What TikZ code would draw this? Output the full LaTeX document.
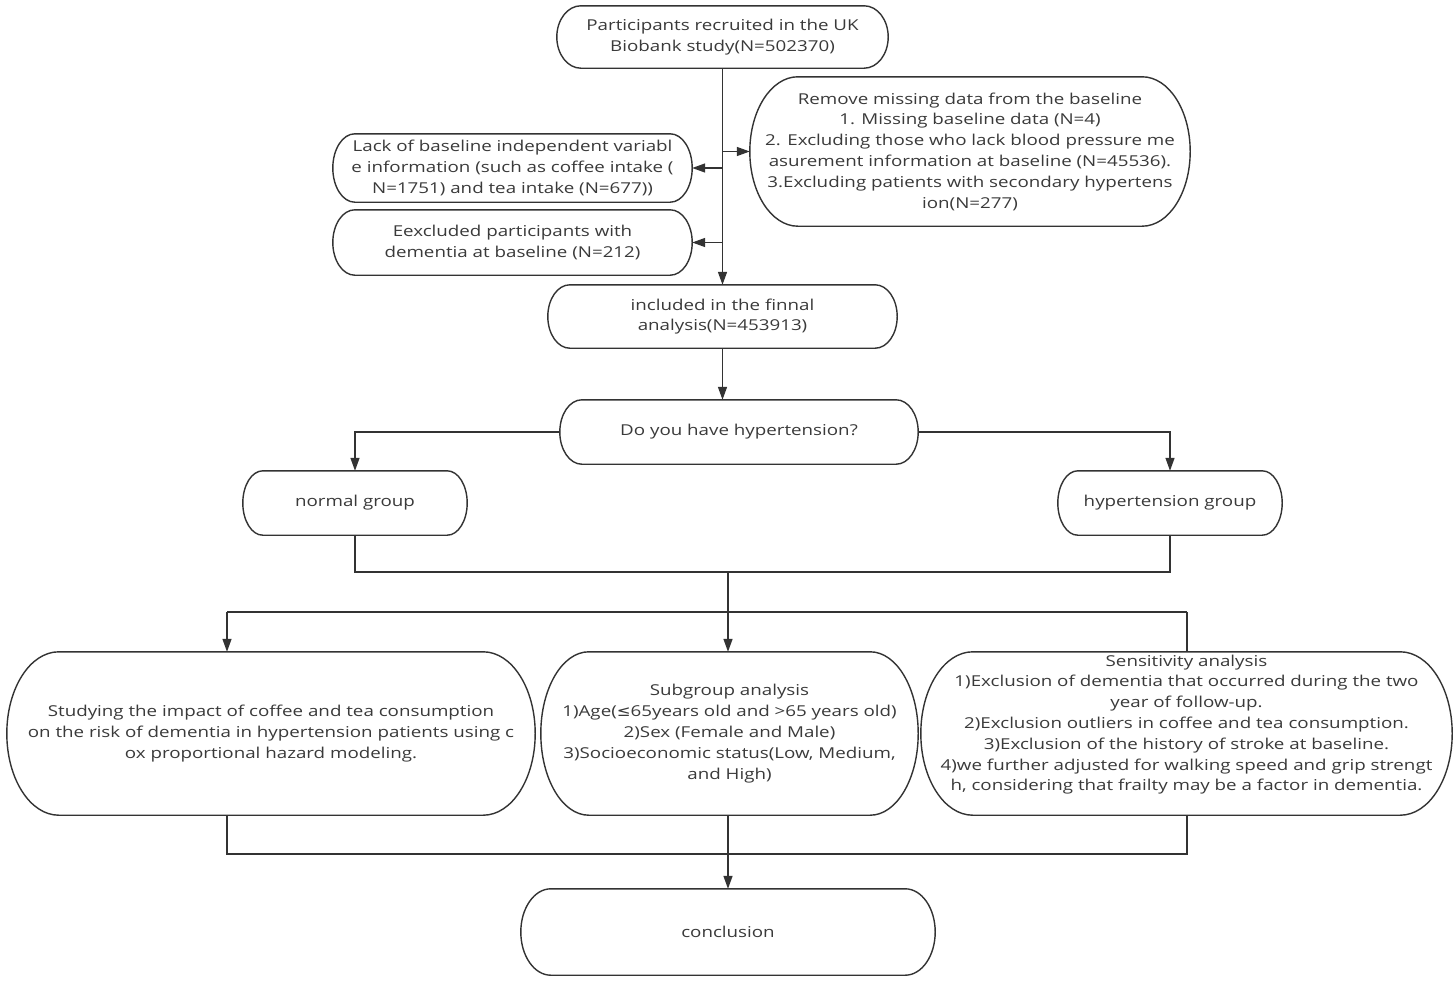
\documentclass[tikz,border=0pt]{standalone}
\usepackage{fontspec}
\setmainfont{Open Sans}[FakeStretch=1.25]
\newfontfamily\symfont{DejaVu Sans}[FakeStretch=1.1]
\usetikzlibrary{arrows.meta,calc}
\definecolor{ln}{HTML}{333333}
\definecolor{txt}{HTML}{3A3A3A}
\newcommand\capsule[2]{\draw[line] let \p1=(#1.north west),\p2=(#1.south east),\n1={(\y1-\y2)/2} in
  (\x1+#2pt,\y1) -- (\x2-#2pt,\y1) arc[start angle=90,end angle=-90,x radius=#2pt,y radius=\n1]
  -- (\x1+#2pt,\y2) arc[start angle=270,end angle=90,x radius=#2pt,y radius=\n1] -- cycle;}
\begin{document}
\begin{tikzpicture}[x=1pt,y=-1pt,
  box/.style={rectangle,inner sep=0pt,align=center,font=\fontsize{15}{20.8}\selectfont,text=txt},
  line/.style={draw=ln,line width=1.4pt},
  arr/.style={line,-{Triangle[length=13pt,width=9pt]}},
]
\path[fill=white,use as bounding box] (0,0) rectangle (1456,980);

\node[box,minimum width=331pt,minimum height=62pt] (start) at (722.5,37) {Participants recruited in the UK\\Biobank study(N=502370)};
\node[box,minimum width=440pt,minimum height=149pt] (remove) at (970,151.5) {Remove missing data from the baseline\\1. Missing baseline data (N=4)\\2. Excluding those who lack blood pressure me\\asurement information at baseline (N=45536).\\3.Excluding patients with secondary hypertens\\ion(N=277)};
\node[box,minimum width=359pt,minimum height=68pt] (lack) at (512.5,168) {Lack of baseline independent variabl\\e information (such as coffee intake (\\N=1751) and tea intake (N=677))};
\node[box,minimum width=359pt,minimum height=65pt] (excl) at (512.5,242.5) {Eexcluded participants with\\dementia at baseline (N=212)};
\node[box,minimum width=349pt,minimum height=63pt] (incl) at (722.5,316.5) {included in the finnal\\analysis(N=453913)};
\node[box,minimum width=358pt,minimum height=64pt] (q) at (739,432) {Do you have hypertension?};
\node[box,minimum width=224pt,minimum height=64pt] (normal) at (355,503) {normal group};
\node[box,minimum width=224pt,minimum height=64pt] (hyp) at (1170,503) {hypertension group};
\node[box,minimum width=528pt,minimum height=163pt] (study) at (271,733.5) {Studying the impact of coffee and tea consumption\\on the risk of dementia in hypertension patients using c\\ox proportional hazard modeling.};
\node[box,minimum width=377pt,minimum height=163pt] (sub) at (729.5,733.5) {Subgroup analysis\\1)Age({\symfont ≤}65years old and >65 years old)\\2)Sex (Female and Male)\\3)Socioeconomic status(Low, Medium,\\and High)};
\node[box,minimum width=531pt,minimum height=163pt] (sens) at (1186.5,733.5) {};
\node[box] (senstext) at (1186.5,724.5) {Sensitivity analysis\\1)Exclusion of dementia that occurred during the two\\year of follow-up.\\2)Exclusion outliers in coffee and tea consumption.\\3)Exclusion of the history of stroke at baseline.\\4)we further adjusted for walking speed and grip strengt\\h, considering that frailty may be a factor in dementia.};
\node[box,minimum width=414pt,minimum height=86pt] (concl) at (728,932) {conclusion};

\capsule{start}{24}
\capsule{remove}{48}
\capsule{lack}{22}
\capsule{excl}{22}
\capsule{incl}{22}
\capsule{q}{22}
\capsule{normal}{20}
\capsule{hyp}{20}
\capsule{study}{52}
\capsule{sub}{48}
\capsule{sens}{52}
\capsule{concl}{30}

\coordinate (j1) at (728,572);
\coordinate (j2) at (728,612);
\coordinate (j3) at (728,854);
\coordinate (ls) at (227,612);
\coordinate (rs) at (1187,612);

\draw[arr] (start.south) -- (incl.north);
\draw[arr] (start.south |- remove.west) -- (remove.west);
\draw[arr] (start.south |- lack.east) -- (lack.east);
\draw[arr] (start.south |- excl.east) -- (excl.east);
\draw[arr] (incl.south) -- (incl.south |- q.north);
\draw[arr] (q.west) -| (normal.north);
\draw[arr] (q.east) -| (hyp.north);
\draw[line] (normal.south) -- (normal.south |- j1) -- (hyp.south |- j1) -- (hyp.south);
\draw[line] (j1) -- (j2);
\draw[line] (ls) -- (rs);
\draw[arr] (ls) -- (ls |- study.north);
\draw[arr] (j2) -- (j2 |- sub.north);
\draw[line] (rs) -- (rs |- sens.north);
\draw[line] (ls |- study.south) -- (ls |- j3) -- (rs |- j3) -- (rs |- sens.south);
\draw[line] (j2 |- sub.south) -- (j3);
\draw[arr] (j3) -- (j3 |- concl.north);
\end{tikzpicture}
\end{document}
